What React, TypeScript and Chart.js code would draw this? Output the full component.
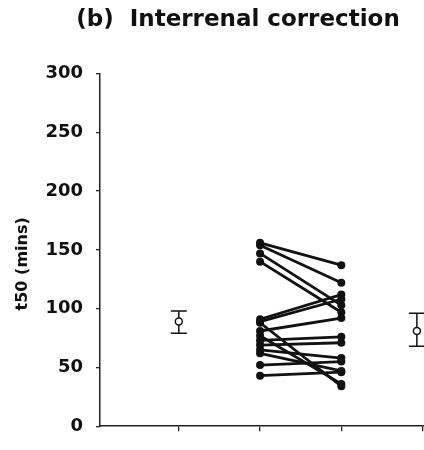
import React, { useEffect, useRef } from "react";
import { Chart, registerables } from "chart.js";

Chart.register(...registerables);

// Individual subjects: t50 before (position 2) and after (position 3)
const preValues = [156, 154, 147, 140, 91, 89, 88, 81, 77, 73, 69, 65, 62, 52, 43];
const postValues = [137, 122, 103, 97, 112, 108, 34, 92, 36, 76, 71, 58, 47, 55, 46];
const prePosition = 2;
const postPosition = 3;

// Group means with error bars
const meanPositions = [1, 3.93];
const meanValues = [89, 81];
const meanLow = [79, 68];
const meanHigh = [98, 96];

const categoryTicks = [1, 2, 3, 4];
const yTicks = [0, 50, 100, 150, 200, 250, 300];

const FONT = "'DejaVu Sans', sans-serif";

const errorBarPlugin = {
  id: "errorBars",
  afterDatasetsDraw(chart: any) {
    const { ctx, scales } = chart;
    const xs = scales.x;
    const ys = scales.y;
    ctx.save();
    ctx.strokeStyle = "#111";
    ctx.lineWidth = 1.5;
    meanPositions.forEach((p, i) => {
      const px = xs.getPixelForValue(p);
      const yLo = ys.getPixelForValue(meanLow[i]);
      const yHi = ys.getPixelForValue(meanHigh[i]);
      const yM = ys.getPixelForValue(meanValues[i]);
      const r = 3.5;
      ctx.beginPath();
      ctx.moveTo(px, yHi);
      ctx.lineTo(px, yM - r);
      ctx.moveTo(px, yM + r);
      ctx.lineTo(px, yLo);
      ctx.moveTo(px - 8, yHi);
      ctx.lineTo(px + 8, yHi);
      ctx.moveTo(px - 8, yLo);
      ctx.lineTo(px + 8, yLo);
      ctx.stroke();
    });
    ctx.restore();
  },
};

export default function App() {
  const ref = useRef<HTMLCanvasElement>(null);

  useEffect(() => {
    if (!ref.current) return;
    const pairDatasets = preValues.map((pre, i) => ({
      type: "line" as const,
      data: [
        { x: prePosition, y: pre },
        { x: postPosition, y: postValues[i] },
      ],
      borderColor: "#111",
      backgroundColor: "#111",
      borderWidth: 2.8,
      pointRadius: 4,
      pointBackgroundColor: "#111",
      pointBorderColor: "#111",
      pointBorderWidth: 0,
      showLine: true,
      fill: false,
      tension: 0,
    }));

    const meanDataset = {
      type: "scatter" as const,
      data: meanPositions.map((p, i) => ({ x: p, y: meanValues[i] })),
      pointRadius: 3.5,
      pointBackgroundColor: "#fff",
      pointBorderColor: "#111",
      pointBorderWidth: 1.5,
      showLine: false,
    };

    const chart = new Chart(ref.current, {
      type: "scatter",
      data: { datasets: [...pairDatasets, meanDataset] as any },
      plugins: [errorBarPlugin],
      options: {
        animation: false,
        responsive: false,
        layout: { padding: 0 },
        plugins: {
          legend: { display: false },
          tooltip: { enabled: false },
          title: {
            display: true,
            text: "(b)  Interrenal correction",
            color: "#111",
            font: { family: FONT, size: 23, weight: "bold" },
            padding: { top: 6, bottom: 40 },
          },
        },
        scales: {
          x: {
            type: "linear",
            min: 0.03,
            max: 4.59,
            afterBuildTicks: (scale: any) => {
              scale.ticks = categoryTicks.map((v) => ({ value: v }));
            },
            afterFit: (scale: any) => {
              scale.height = 15;
            },
            ticks: { display: false },
            grid: {
              display: true,
              drawOnChartArea: false,
              drawTicks: true,
              tickLength: 5,
              color: "#222",
              lineWidth: 1.3,
            },
            border: { display: true, color: "#222", width: 1.5 },
          },
          y: {
            type: "linear",
            min: 0,
            max: 300,
            afterBuildTicks: (scale: any) => {
              scale.ticks = yTicks.map((v) => ({ value: v }));
            },
            afterFit: (scale: any) => {
              scale.width = 100;
            },
            ticks: {
              color: "#111",
              font: { family: FONT, size: 18, weight: "bold" },
              padding: 13,
            },
            grid: {
              display: true,
              drawOnChartArea: false,
              drawTicks: true,
              tickLength: 4,
              color: "#222",
              lineWidth: 1.3,
            },
            border: { display: true, color: "#222", width: 1.5 },
            title: {
              display: true,
              text: "t50 (mins)     ",
              color: "#111",
              font: { family: FONT, size: 16, weight: "bold" },
              padding: { top: 13, bottom: 0 },
            },
          },
        },
      },
    });
    return () => chart.destroy();
  }, []);

  return (
    <div
      style={{
        position: "absolute",
        left: 0,
        top: 0,
        width: 424,
        height: 450,
        overflow: "hidden",
        background: "#fff",
      }}
    >
      <canvas ref={ref} width={476} height={450} style={{ width: 476, height: 450, display: "block" }} />
    </div>
  );
}
